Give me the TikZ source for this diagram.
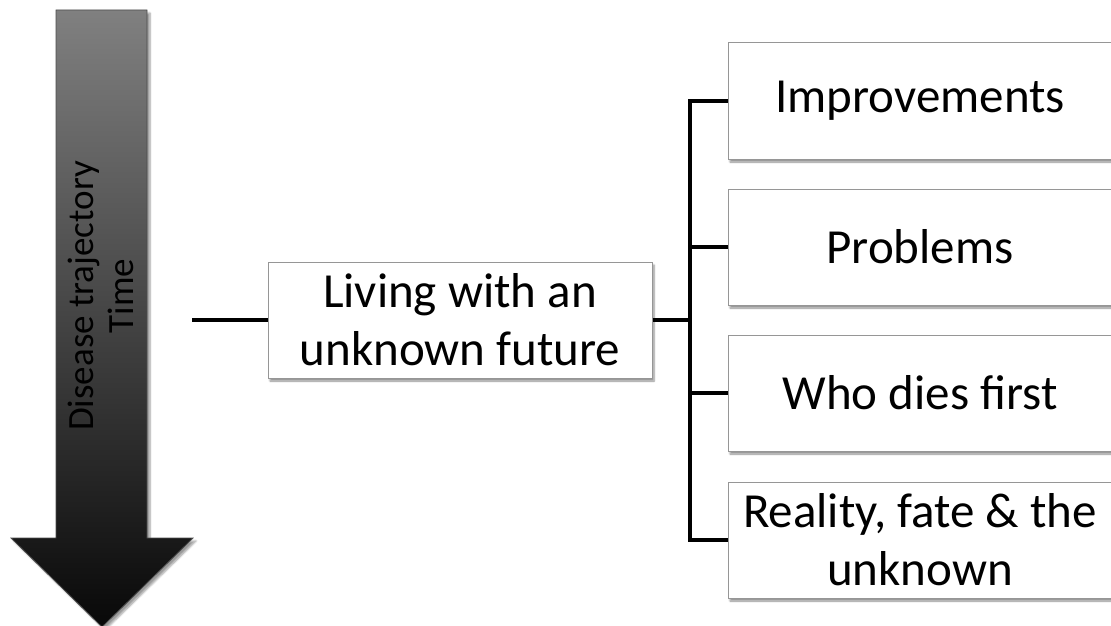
\documentclass[tikz,border=0pt]{standalone}
\usepackage{fontspec}
\setmainfont{Carlito}
\usetikzlibrary{shadows.blur}
\definecolor{boxline}{RGB}{150,150,150}
\definecolor{arrtop}{RGB}{128,128,128}
\definecolor{arrbot}{RGB}{8,8,8}
\tikzset{
  stepbox/.style={draw=boxline, line width=1pt, fill=white, minimum width=384pt, minimum height=116pt, inner sep=0pt, align=center, font=\fontsize{49}{58}\selectfont,
    blur shadow={shadow xshift=2pt, shadow yshift=-3pt, shadow blur steps=6, shadow opacity=45}},
  conn/.style={line width=4pt, draw=black},
  arrtext/.style={font=\fontsize{37}{40}\selectfont, align=center, rotate=90, text=black}
}
\begin{document}
\begin{tikzpicture}[x=1pt,y=-1pt]
\useasboundingbox (0,0) rectangle (1111,626);
\clip (0,0) rectangle (1111,626);
% arrow
\path[blur shadow={shadow xshift=3pt, shadow yshift=-3pt, shadow blur steps=6, shadow opacity=40}, top color=arrtop, bottom color=arrbot, draw=arrtop!60!black, line width=0.8pt]
  (56,10) -- (147,10) -- (147,538) -- (193,538) -- (102,627) -- (11,538) -- (56,538) -- cycle;
\node[arrtext] (arr) at (101,296) {Disease trajectory\\Time};
% main node
\node[stepbox] (main) at (460,320) {Living with an\\unknown future};
\coordinate (start) at (192,320);
\coordinate (jn) at (690,320);
% branches
\node[stepbox] (b1) at (920,101) {Improvements};
\node[stepbox] (b2) at (920,247) {Problems};
\node[stepbox] (b3) at (920,393) {Who dies first};
\node[stepbox] (b4) at (920,540) {Reality, fate \& the\\unknown};
\draw[conn] (start) -- (main.west);
\draw[conn] (main.east) -- (jn);
\draw[conn] (b1.west) -| (jn) |- (b4.west);
\draw[conn] (jn |- b2.west) -- (b2.west);
\draw[conn] (jn |- b3.west) -- (b3.west);
\end{tikzpicture}
\end{document}
